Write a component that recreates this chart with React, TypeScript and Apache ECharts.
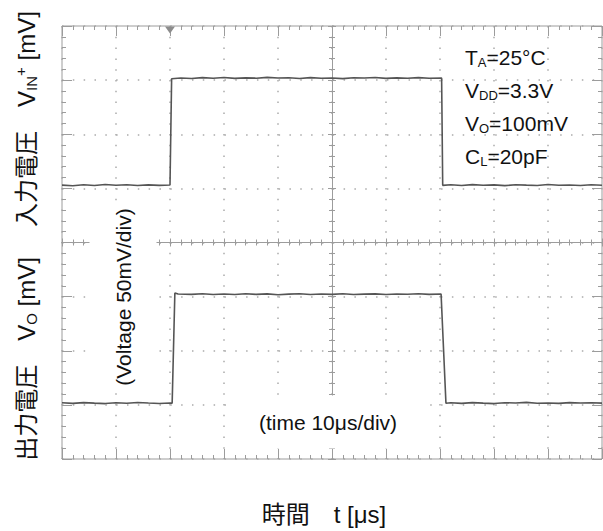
import React, { useEffect, useRef } from "react";
import * as echarts from "echarts";

// Input step V_IN+ (time in µs, level in mV on the 50 mV/div screen)
const inTime = [
  0, 2, 4, 6, 8, 10, 12, 14, 16, 18, 20,
  20.3, 22, 24, 26, 28, 30, 32, 34, 36, 38, 40, 42, 44, 46, 48, 50, 52, 54, 56, 58, 60, 62, 64, 66, 68, 70.3,
  70.5, 72, 74, 76, 78, 80, 82, 84, 86, 88, 90, 92, 94, 96, 98, 100,
];
const inVolt = [
  53.0, 52.4, 53.3, 52.7, 53.6, 52.9, 53.4, 52.6, 53.2, 52.8, 53.1,
  151.2, 152.0, 151.5, 152.3, 151.7, 152.4, 151.6, 152.1, 151.8, 152.5, 151.9, 152.2, 151.5, 152.3, 151.8,
  152.0, 151.4, 152.2, 151.9, 152.4, 151.6, 152.1, 151.8, 152.3, 151.7, 152.0,
  52.8, 53.3, 52.6, 53.5, 52.9, 53.2, 52.5, 53.4, 53.0, 52.7, 53.6, 52.9, 53.1, 52.6, 53.3, 52.9,
];

// Output response V_O
const outTime = [
  0, 2, 4, 6, 8, 10, 12, 14, 16, 18, 20, 20.4,
  20.9, 21.5, 24, 26, 28, 30, 32, 34, 36, 38, 40, 42, 44, 46, 48, 50, 52, 54, 56, 58, 60, 62, 64, 66, 68, 70.2,
  71.1, 72, 74, 76, 78, 80, 82, 84, 86, 88, 90, 92, 94, 96, 98, 100,
];
const outVolt = [
  -148.0, -148.6, -147.9, -148.4, -148.8, -148.1, -148.5, -147.8, -148.3, -148.7, -148.2, -148.4,
  -46.6, -47.6, -47.9, -47.4, -48.1, -47.6, -48.0, -47.3, -47.9, -47.5, -48.2, -47.7, -47.4, -48.0,
  -47.6, -47.9, -47.3, -48.1, -47.7, -47.5, -48.0, -47.6, -47.8, -47.4, -47.9, -47.6,
  -148.5, -148.1, -148.6, -147.9, -148.4, -148.8, -148.0, -148.3, -147.7, -148.5, -148.2, -148.6,
  -147.9, -148.3, -148.1, -148.4,
];

const triggerTime = 20;

// Screen scale: 10 divisions of 10 µs, 8 divisions of 50 mV
const timeMin = 0;
const timeMax = 100;
const timeDiv = 10;
const voltMin = -200;
const voltMax = 200;
const voltDiv = 50;

// Measurement conditions: [main, subscript, rest]
const conditions: [string, string, string][] = [
  ["T", "A", "=25°C"],
  ["V", "DD", "=3.3V"],
  ["V", "O", "=100mV"],
  ["C", "L", "=20pF"],
];

const FONT = "'Liberation Sans', Arial, 'Noto Sans CJK JP', sans-serif";
const INK = "#111111";
const TRACE = "#555555";
const FRAME = "#9c9c9c";
const DOT = "#ababab";

function richStyles(main: number, sub: number) {
  return {
    m: { fontSize: main, lineHeight: main + 2, fontFamily: FONT, fill: INK, color: INK },
    s: { fontSize: sub, lineHeight: 8, verticalAlign: "bottom", fontFamily: FONT, fill: INK, color: INK },
    p: { fontSize: sub, lineHeight: 8, verticalAlign: "top", fontFamily: FONT, fill: INK, color: INK },
  };
}

const zip = (xs: number[], ys: number[]) => xs.map((x, i) => [x, ys[i]]);

function frameXAxis(position: "top" | "bottom", grid: boolean) {
  return {
    type: "value",
    gridIndex: 0,
    position,
    min: timeMin,
    max: timeMax,
    interval: timeDiv,
    axisLine: { show: false, onZero: false },
    axisTick: { show: true, inside: true, length: 10, lineStyle: { color: FRAME, width: 1 } },
    minorTick: { show: true, splitNumber: 5, length: 4, lineStyle: { color: FRAME, width: 1 } },
    axisLabel: { show: false },
    splitLine: { show: grid, lineStyle: { color: DOT, width: 1.5, type: [1.5, 9.3] } },
  };
}

function frameYAxis(position: "left" | "right", grid: boolean) {
  return {
    type: "value",
    gridIndex: 0,
    position,
    min: voltMin,
    max: voltMax,
    interval: voltDiv,
    axisLine: { show: false, onZero: false },
    axisTick: { show: true, inside: true, length: 10, lineStyle: { color: FRAME, width: 1 } },
    minorTick: { show: true, splitNumber: 5, length: 4, lineStyle: { color: FRAME, width: 1 } },
    axisLabel: { show: false },
    splitLine: { show: grid, lineStyle: { color: DOT, width: 1.5, type: [1.5, 9.33] } },
  };
}

// Centre graticule lines with ticks on both sides
function centreXAxis(inside: boolean) {
  return {
    type: "value",
    gridIndex: 0,
    position: "bottom",
    min: timeMin,
    max: timeMax,
    interval: timeDiv,
    axisLine: { show: true, onZero: true, onZeroAxisIndex: 0, lineStyle: { color: FRAME, width: 1 } },
    axisTick: { show: true, inside, length: 4, lineStyle: { color: FRAME, width: 1 } },
    minorTick: { show: true, splitNumber: 5, length: 3, lineStyle: { color: FRAME, width: 1 } },
    axisLabel: { show: false },
    splitLine: { show: false },
  };
}

function centreYAxis(inside: boolean) {
  return {
    type: "value",
    gridIndex: 0,
    position: "left",
    min: voltMin,
    max: voltMax,
    interval: voltDiv,
    axisLine: { show: true, onZero: true, onZeroAxisIndex: 4, lineStyle: { color: FRAME, width: 1 } },
    axisTick: { show: true, inside, length: 4, lineStyle: { color: FRAME, width: 1 } },
    minorTick: { show: true, splitNumber: 5, length: 3, lineStyle: { color: FRAME, width: 1 } },
    axisLabel: { show: false },
    splitLine: { show: false },
  };
}

function buildOption() {
  const half = (timeMax - timeMin) / 2;
  const conditionTexts = conditions.map((c, i) => ({
    type: "text",
    z: 10,
    x: 465,
    y: 57 + i * 33,
    style: {
      text: `{m|${c[0]}}{s|${c[1]}}{m|${c[2]}}`,
      rich: richStyles(21, 13),
      align: "left",
      verticalAlign: "middle",
      textAlign: "left",
      textVerticalAlign: "middle",
      fill: INK,
    },
  }));

  return {
    animation: false,
    backgroundColor: "#ffffff",
    grid: {
      left: 62,
      top: 26,
      width: 540,
      height: 433,
      show: true,
      borderColor: FRAME,
      borderWidth: 1,
      backgroundColor: "transparent",
    },
    xAxis: [
      frameXAxis("bottom", true),
      frameXAxis("top", false),
      centreXAxis(true),
      centreXAxis(false),
      {
        type: "value",
        gridIndex: 0,
        position: "top",
        min: -half,
        max: half,
        show: false,
        axisLine: { onZero: false },
      },
    ],
    yAxis: [
      frameYAxis("left", true),
      frameYAxis("right", false),
      centreYAxis(true),
      centreYAxis(false),
    ],
    series: [
      {
        name: "VIN+",
        type: "line",
        xAxisIndex: 0,
        yAxisIndex: 0,
        data: zip(inTime, inVolt),
        showSymbol: false,
        symbol: "none",
        lineStyle: { color: TRACE, width: 1.6 },
        z: 5,
        markPoint: {
          symbol: "triangle",
          symbolSize: [10, 7],
          symbolRotate: 180,
          symbolOffset: [0, 4],
          itemStyle: { color: "#8c8c8c" },
          label: { show: false },
          data: [{ coord: [triggerTime, voltMax] }],
        },
      },
      {
        name: "VO",
        type: "line",
        xAxisIndex: 0,
        yAxisIndex: 0,
        data: zip(outTime, outVolt),
        showSymbol: false,
        symbol: "none",
        lineStyle: { color: TRACE, width: 1.6 },
        z: 5,
      },
    ],
    graphic: [
      {
        type: "text",
        z: 10,
        x: 26,
        y: 119,
        rotation: Math.PI / 2,
        style: {
          text: "{m|入力電圧　V}{s|IN}{p|+}{m| [mV]}",
          rich: richStyles(24, 15),
          align: "center",
          verticalAlign: "middle",
          textAlign: "center",
          textVerticalAlign: "middle",
          fill: INK,
        },
      },
      {
        type: "text",
        z: 10,
        x: 26,
        y: 359,
        rotation: Math.PI / 2,
        style: {
          text: "{m|出力電圧　V}{s|O}{m| [mV]}",
          rich: richStyles(24, 15),
          align: "center",
          verticalAlign: "middle",
          textAlign: "center",
          textVerticalAlign: "middle",
          fill: INK,
        },
      },
      {
        type: "text",
        z: 10,
        x: 123,
        y: 297,
        rotation: Math.PI / 2,
        style: {
          text: "(Voltage 50mV/div)",
          font: `21px ${FONT}`,
          fontSize: 21,
          fontFamily: FONT,
          align: "center",
          verticalAlign: "middle",
          textAlign: "center",
          textVerticalAlign: "middle",
          fill: INK,
          backgroundColor: "#ffffff",
          padding: [24, 7, 22, 7],
        },
      },
      {
        type: "text",
        z: 10,
        x: 330,
        y: 422,
        style: {
          text: "(time 10μs/div)",
          font: `21px ${FONT}`,
          fontSize: 21,
          fontFamily: FONT,
          align: "center",
          verticalAlign: "middle",
          textAlign: "center",
          textVerticalAlign: "middle",
          fill: INK,
          backgroundColor: "#ffffff",
          padding: [22, 28, 10, 24],
        },
      },
      {
        type: "text",
        z: 10,
        x: 324,
        y: 514,
        style: {
          text: "時間　t [μs]",
          font: `24px ${FONT}`,
          fontSize: 24,
          fontFamily: FONT,
          align: "center",
          verticalAlign: "middle",
          textAlign: "center",
          textVerticalAlign: "middle",
          fill: INK,
        },
      },
      ...conditionTexts,
    ],
  };
}

export default function App() {
  const ref = useRef<HTMLDivElement>(null);
  useEffect(() => {
    if (!ref.current) return;
    const chart = echarts.init(ref.current, null, { renderer: "svg" });
    chart.setOption(buildOption() as any);
    return () => chart.dispose();
  }, []);
  return (
    <div
      ref={ref}
      style={{ position: "fixed", left: 0, top: 0, width: 603, height: 531, background: "#ffffff" }}
    />
  );
}
